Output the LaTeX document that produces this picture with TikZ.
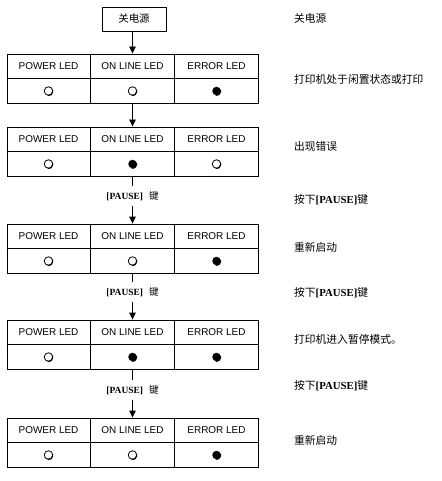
\documentclass[tikz,border=0pt]{standalone}
\usepackage{fontspec}
\setmainfont{Liberation Serif}
\newfontfamily\cjk{Noto Sans CJK SC}
\newfontfamily\arialf{Liberation Sans}
\usetikzlibrary{arrows.meta}
\tikzset{
  tab/.style={draw, line width=0.9bp, minimum width=251bp, minimum height=49bp, inner sep=0pt},
  hdr/.style={font=\arialf\fontsize{10}{12}\selectfont, inner sep=0pt},
  ledoff/.style={circle, draw, line width=0.8bp, minimum size=8.5bp, inner sep=0pt},
  ledon/.style={circle, fill=black, minimum size=8.5bp, inner sep=0pt},
  plab/.style={font=\fontsize{9.5}{11}\selectfont, minimum height=20bp, inner sep=0pt},
  rlab/.style={anchor=west, font=\fontsize{10.8}{12}\selectfont, inner sep=0pt},
  conn/.style={line width=0.9bp},
  arr/.style={line width=0.9bp, -{Triangle[length=7bp,width=6.5bp]}},
}
\newcommand\ledtab[5]{%
  \node[tab] (#1) at (132.5,#2+24.5) {};
  \draw[line width=0.9bp] (#1.west) -- (#1.east);
  \draw[line width=0.9bp] (90.5,#2) -- (90.5,#2+49);
  \draw[line width=0.9bp] (174.5,#2) -- (174.5,#2+49);
  \node[hdr] (#1h1) at (48.5,#2+12.5) {POWER LED};
  \node[hdr] (#1h2) at (132.5,#2+12.5) {ON LINE LED};
  \node[hdr] (#1h3) at (216.5,#2+12.5) {ERROR LED};
  \node[#3] (#1l1) at (48.5,#2+37) {};
  \node[#4] (#1l2) at (132.5,#2+37) {};
  \node[#5] (#1l3) at (216.5,#2+37) {};
  \foreach \k in {1,2,3}{\draw[line width=1.1bp] (#1l\k.-100) arc[start angle=-100, end angle=20, radius=4.25bp];}
}
\begin{document}
\begin{tikzpicture}[x=1bp,y=-1bp]
\useasboundingbox[fill=white] (0,0) rectangle (442,481);
\node[draw, line width=0.9bp, minimum width=64bp, minimum height=24bp, inner sep=0pt,
      font=\cjk\fontsize{10.5}{12}\selectfont] (b0) at (134,19) {关电源};
\ledtab{t1}{54}{ledoff}{ledoff}{ledon}
\ledtab{t2}{127}{ledoff}{ledon}{ledoff}
\ledtab{t3}{224}{ledoff}{ledoff}{ledon}
\ledtab{t4}{320}{ledoff}{ledon}{ledon}
\ledtab{t5}{418}{ledoff}{ledoff}{ledon}
\node[plab] (p1) at (132.5,196) {\textbf{[PAUSE]}\hspace{6bp}{\cjk 键}};
\node[plab] (p2) at (132.5,292) {\textbf{[PAUSE]}\hspace{6bp}{\cjk 键}};
\node[plab] (p3) at (132.5,390) {\textbf{[PAUSE]}\hspace{6bp}{\cjk 键}};
\draw[arr] (b0.south -| t1.north) -- (t1.north);
\draw[arr] (t1.south) -- (t2.north);
\draw[conn] (t2.south) -- (p1.north);
\draw[arr] (p1.south) -- (t3.north);
\draw[conn] (t3.south) -- (p2.north);
\draw[arr] (p2.south) -- (t4.north);
\draw[conn] (t4.south) -- (p3.north);
\draw[arr] (p3.south) -- (t5.north);
\node[rlab] (r1) at (294,18) {\cjk 关电源};
\node[rlab] (r2) at (294,79) {\cjk 打印机处于闲置状态或打印};
\node[rlab] (r3) at (294,146) {\cjk 出现错误};
\node[rlab] (r4) at (294,200) {{\cjk 按下}\textbf{[PAUSE]}{\cjk 键}};
\node[rlab] (r5) at (294,247) {\cjk 重新启动};
\node[rlab] (r6) at (294,293) {{\cjk 按下}\textbf{[PAUSE]}{\cjk 键}};
\node[rlab] (r7) at (294,339) {\cjk 打印机进入暂停模式。};
\node[rlab] (r8) at (294,386) {{\cjk 按下}\textbf{[PAUSE]}{\cjk 键}};
\node[rlab] (r9) at (294,440) {\cjk 重新启动};
\end{tikzpicture}
\end{document}
